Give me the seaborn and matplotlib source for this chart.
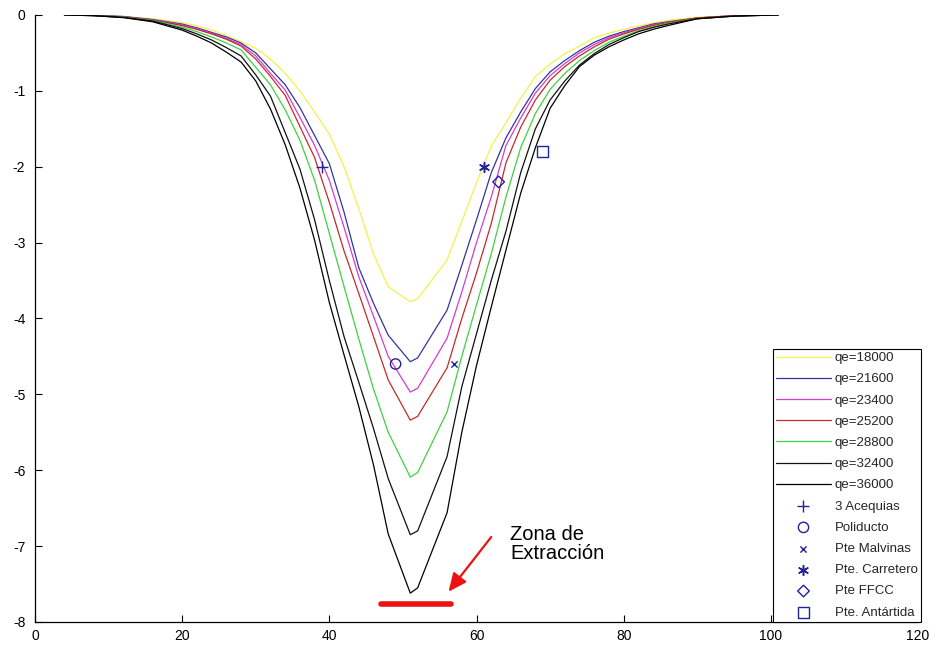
import matplotlib
matplotlib.use("Agg")
import matplotlib.pyplot as plt
import seaborn as sns
import pandas as pd

# ---------------- data ----------------
x = [4, 8, 12, 16, 20, 22, 24, 26, 28, 30, 32, 34, 36, 38, 40, 42, 44, 46, 48, 51, 52,
     56, 58, 60, 62, 64, 66, 68, 70, 72, 74, 76, 78, 80, 82, 84, 86, 90, 95, 101]

qe18000 = [0, -0.005, -0.02, -0.05, -0.10, -0.145, -0.20, -0.27, -0.35, -0.44, -0.58, -0.77,
           -1.0, -1.28, -1.57, -2.0, -2.55, -3.15, -3.58, -3.78, -3.74,
           -3.23, -2.72, -2.21, -1.73, -1.42, -1.1, -0.81, -0.65, -0.51, -0.41, -0.30, -0.24,
           -0.19, -0.145, -0.105, -0.07, -0.03, -0.01, 0]
qe21600 = [0, -0.005, -0.02, -0.06, -0.12, -0.17, -0.23, -0.29, -0.37, -0.5, -0.71, -0.92,
           -1.22, -1.59, -1.96, -2.6, -3.33, -3.8, -4.22, -4.57, -4.52,
           -3.89, -3.3, -2.7, -2.08, -1.62, -1.28, -0.97, -0.75, -0.6, -0.47, -0.36, -0.28,
           -0.22, -0.17, -0.12, -0.09, -0.04, -0.01, 0]
qe23400 = [0, -0.006, -0.025, -0.065, -0.13, -0.18, -0.24, -0.31, -0.39, -0.54, -0.77, -0.99,
           -1.35, -1.72, -2.18, -2.8, -3.45, -3.97, -4.5, -4.97, -4.92,
           -4.26, -3.65, -3.0, -2.4, -1.72, -1.36, -1.03, -0.8, -0.64, -0.5, -0.39, -0.3,
           -0.235, -0.18, -0.13, -0.1, -0.04, -0.01, 0]
qe25200 = [0, -0.007, -0.027, -0.07, -0.14, -0.19, -0.25, -0.32, -0.41, -0.58, -0.81, -1.06,
           -1.47, -1.88, -2.47, -3.11, -3.67, -4.24, -4.81, -5.34, -5.29,
           -4.65, -4.0, -3.4, -2.75, -1.95, -1.48, -1.12, -0.86, -0.68, -0.54, -0.42, -0.32,
           -0.25, -0.19, -0.14, -0.1, -0.04, -0.01, 0]
qe28800 = [0, -0.008, -0.03, -0.075, -0.16, -0.22, -0.29, -0.37, -0.46, -0.69, -0.92, -1.25,
           -1.65, -2.18, -2.88, -3.58, -4.27, -4.93, -5.5, -6.09, -6.03,
           -5.23, -4.5, -3.82, -3.15, -2.4, -1.75, -1.3, -0.98, -0.77, -0.6, -0.47, -0.36,
           -0.28, -0.21, -0.155, -0.11, -0.05, -0.015, 0]
qe32400 = [0, -0.009, -0.032, -0.08, -0.18, -0.25, -0.33, -0.43, -0.54, -0.79, -1.07, -1.55,
           -2.03, -2.7, -3.5, -4.24, -4.84, -5.45, -6.11, -6.85, -6.80,
           -5.82, -4.9, -4.2, -3.5, -2.85, -2.08, -1.5, -1.12, -0.87, -0.66, -0.51, -0.39,
           -0.3, -0.22, -0.165, -0.12, -0.05, -0.015, 0]
qe36000 = [0, -0.01, -0.035, -0.09, -0.20, -0.28, -0.37, -0.49, -0.62, -0.87, -1.24, -1.71,
           -2.28, -2.97, -3.79, -4.48, -5.16, -5.93, -6.84, -7.62, -7.55,
           -6.56, -5.5, -4.62, -3.85, -3.1, -2.35, -1.75, -1.23, -0.93, -0.68, -0.53, -0.42,
           -0.33, -0.25, -0.19, -0.14, -0.05, -0.015, 0]

series_labels = ["qe=18000", "qe=21600", "qe=23400", "qe=25200", "qe=28800", "qe=32400", "qe=36000"]
series_values = [qe18000, qe21600, qe23400, qe25200, qe28800, qe32400, qe36000]
series_colors = ["#f2f24c", "#34349c", "#d23cd6", "#c42a2a", "#3ed23e", "#111111", "#000000"]

point_labels = ["3 Acequias", "Poliducto", "Pte Malvinas", "Pte. Carretero", "Pte FFCC", "Pte. Antártida"]
point_x = [39, 49, 57, 61, 63, 69]
point_y = [-2.0, -4.6, -4.6, -2.0, -2.2, -1.8]
point_markers = ["+", "o", "x", (6, 2, 0), "D", "s"]

bar_x = [47.0, 56.5]
bar_y = [-7.76, -7.76]
note_text = "Zona de\nExtracción"

xticks = [0, 20, 40, 60, 80, 100, 120]
yticks = [0, -1, -2, -3, -4, -5, -6, -7, -8]

# ---------------- style ----------------
sns.set_style("ticks")
plt.rcParams["font.family"] = ["Liberation Sans", "DejaVu Sans"]

fig = plt.figure(figsize=(9.36, 6.5), dpi=100)
ax = fig.add_axes([0.0374, 0.0431, 0.9434, 0.9339])

rows = []
for lab, vals in zip(series_labels, series_values):
    for xi, yi in zip(x, vals):
        rows.append({"x": xi, "y": yi, "serie": lab})
df = pd.DataFrame(rows)

for lab, col in zip(series_labels, series_colors):
    sub = df[df["serie"] == lab]
    sns.lineplot(data=sub, x="x", y="y", color=col, lw=0.9, label=lab,
                 estimator=None, sort=False, ax=ax)

mcol = "#22229a"
line_marks = {"+": 75, "x": 20}
fill_marks = {"o": 55, "D": 35, "s": 60}
for lab, px, py, mk in zip(point_labels, point_x, point_y, point_markers):
    if isinstance(mk, tuple):
        sns.scatterplot(x=[px], y=[py], marker=mk, s=50, color=mcol,
                        linewidth=1.1, label=lab, ax=ax, zorder=5)
    elif mk in line_marks:
        sns.scatterplot(x=[px], y=[py], marker=mk, s=line_marks[mk], color=mcol,
                        linewidth=1.0, label=lab, ax=ax, zorder=5)
    else:
        sns.scatterplot(x=[px], y=[py], marker=mk, s=fill_marks[mk], facecolor="none",
                        edgecolor=mcol, linewidth=1.0, label=lab, ax=ax, zorder=5)

# extraction zone bar and arrow
sns.lineplot(x=bar_x, y=bar_y, color="#ee1111", lw=4, ax=ax, legend=False,
             estimator=None)
ax.annotate("", xy=(56.2, -7.6), xytext=(62.0, -6.88),
            arrowprops=dict(arrowstyle="-|>,head_length=1.1,head_width=0.5",
                            color="#ee1111", lw=1.6, shrinkA=0, shrinkB=0))
ax.text(64.6, -6.72, note_text, ha="left", va="top", fontsize=14.5,
        linespacing=1.0, color="black")

ax.set_xlim(0, 120)
ax.set_ylim(-8, 0)
ax.set_xticks(xticks)
ax.set_yticks(yticks)
ax.set_xticklabels([str(t) for t in xticks])
ax.set_yticklabels([str(t) for t in yticks])
ax.set_xlabel("")
ax.set_ylabel("")
ax.tick_params(direction="in", length=5, width=0.8, labelsize=10, colors="black")
ax.tick_params(axis="x", pad=5)
ax.tick_params(axis="y", pad=7)
for s in ["top", "right"]:
    ax.spines[s].set_visible(False)
for s in ["left", "bottom"]:
    ax.spines[s].set_linewidth(0.9)
    ax.spines[s].set_color("black")

handles, labels = ax.get_legend_handles_labels()
leg = ax.legend(handles, labels, loc="lower right", bbox_to_anchor=(1.003, 0.0),
                borderaxespad=0, fontsize=9.5, frameon=True, fancybox=False,
                edgecolor="black", framealpha=1, handlelength=4.1,
                handletextpad=0.3, labelspacing=0.68, borderpad=0.25,
                scatterpoints=1)
leg.get_frame().set_linewidth(0.8)

fig.savefig("out.png", dpi=100)
